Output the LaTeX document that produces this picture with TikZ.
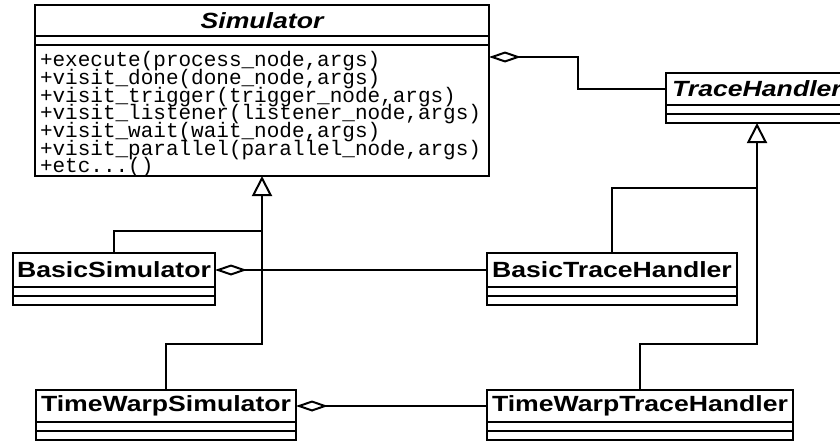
\documentclass[tikz,border=0pt]{standalone}
\usepackage{fontspec}
\newfontfamily\umlsans[FakeStretch=1.21]{Liberation Sans}
\newfontfamily\umlmono{Liberation Mono}
\usetikzlibrary{arrows.meta,calc}
\begin{document}
\begin{tikzpicture}[x=1pt,y=-1pt,
  classtitle/.style={draw, line width=2pt, fill=white, anchor=north west,
    inner sep=0pt, outer sep=0pt,
    font=\umlsans\bfseries\fontsize{22}{24}\selectfont},
  compart/.style={draw, line width=2pt, anchor=north west,
    inner sep=0pt, outer sep=0pt, minimum height=9pt},
  opline/.style={anchor=base west, inner sep=0pt, outer sep=0pt,
    font=\umlmono\fontsize{21}{18}\selectfont},
  conn/.style={line width=2pt},
  agg/.style={conn, {Diamond[open,length=32pt,width=11pt]}-},
  inherit/.style={conn, -{Triangle[open,length=20pt,width=20pt]}}
]
\useasboundingbox (0,0) rectangle (840,442);

% abstract base class with its operations
\node[classtitle, minimum width=454pt, minimum height=31pt] (simT) at (35,5) {\itshape Simulator};
\node[compart, minimum width=454pt] (simA) at (simT.south west) {};
\node[compart, minimum width=454pt, minimum height=131pt] (simO) at (simA.south west) {};
\node[opline] (op0) at ($(simO.north west)+(5,21.7)$) {+execute(process\_node,args)};
\node[opline] (op1) at ($(op0.base west)+(0,17.7)$) {+visit\_done(done\_node,args)};
\node[opline] (op2) at ($(op1.base west)+(0,17.7)$) {+visit\_trigger(trigger\_node,args)};
\node[opline] (op3) at ($(op2.base west)+(0,17.7)$) {+visit\_listener(listener\_node,args)};
\node[opline] (op4) at ($(op3.base west)+(0,17.7)$) {+visit\_wait(wait\_node,args)};
\node[opline] (op5) at ($(op4.base west)+(0,17.7)$) {+visit\_parallel(parallel\_node,args)};
\node[opline] (op6) at ($(op5.base west)+(0,17.7)$) {+etc...()};

% abstract trace handler
\node[classtitle, minimum width=182pt, minimum height=32pt] (thT) at (666,73) {\itshape TraceHandler};
\node[compart, minimum width=182pt] (thA) at (thT.south west) {};
\node[compart, minimum width=182pt] (thO) at (thA.south west) {};

% concrete simulators
\node[classtitle, minimum width=202pt, minimum height=34pt] (bsT) at (13,253) {BasicSimulator};
\node[compart, minimum width=202pt] (bsA) at (bsT.south west) {};
\node[compart, minimum width=202pt] (bsO) at (bsA.south west) {};

\node[classtitle, minimum width=260pt, minimum height=32pt] (twsT) at (36,390) {TimeWarpSimulator};
\node[compart, minimum width=260pt] (twsA) at (twsT.south west) {};
\node[compart, minimum width=260pt] (twsO) at (twsA.south west) {};

% concrete trace handlers
\node[classtitle, minimum width=250pt, minimum height=34pt] (btT) at (487,253) {BasicTraceHandler};
\node[compart, minimum width=250pt] (btA) at (btT.south west) {};
\node[compart, minimum width=250pt] (btO) at (btA.south west) {};

\node[classtitle, minimum width=306pt, minimum height=32pt] (twtT) at (487,390) {TimeWarpTraceHandler};
\node[compart, minimum width=306pt] (twtA) at (twtT.south west) {};
\node[compart, minimum width=306pt] (twtO) at (twtA.south west) {};

% bend points of the connectors
\coordinate (sj1) at ($(simO.south)+(0,55)$);
\coordinate (sj2) at ($(simO.south)+(0,168)$);
\coordinate (tj1) at ($(thO.south)+(0,65)$);
\coordinate (tj2) at ($(thO.south)+(0,221)$);
\coordinate (sa)  at ($(simO.north east)+(0,12)$);
\coordinate (sb)  at ($(sa)+(89,0)$);

% generalisations
\draw[conn] (bsT.north) |- (sj1);
\draw[inherit] (twsT.north) |- (sj2) -- (simO.south);
\draw[conn] (btT.north) |- (tj1);
\draw[inherit] (twtT.north) |- (tj2) -- (thO.south);

% aggregations
\draw[agg] (sa) -- (sb) |- (thT.west);
\draw[agg] (bsT.east) -- (btT.west);
\draw[agg] (twsT.east) -- (twtT.west);
\end{tikzpicture}
\end{document}
